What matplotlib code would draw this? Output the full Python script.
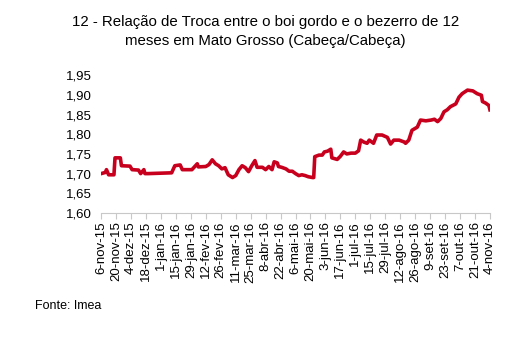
import matplotlib.pyplot as plt

plt.rcParams['font.family'] = ['Liberation Sans', 'DejaVu Sans']

# days since 6-nov-15 and exchange ratio (head/head)
days = [0, 4, 5, 7, 9, 12, 13, 18, 19, 27, 29, 35, 37, 40, 41, 44, 66, 69, 74, 76,
        85, 90, 91, 98, 101, 104, 107, 110, 113, 116, 119, 123, 126, 129, 132, 135,
        138, 141, 144, 146, 151, 154, 157, 160, 162, 165, 166, 169, 173, 176, 179,
        182, 185, 188, 191, 194, 198, 199, 200, 204, 207, 209, 212, 215, 216, 221,
        224, 227, 230, 234, 238, 241, 243, 246, 249, 251, 255, 258, 263, 268, 271,
        274, 279, 284, 285, 288, 291, 296, 299, 304, 309, 312, 315, 318, 321, 324,
        327, 332, 335, 338, 343, 348, 352, 356, 357, 360, 363, 364]
ratio = [1.700, 1.703, 1.710, 1.697, 1.697, 1.697, 1.740, 1.740, 1.720, 1.719, 1.710,
         1.709, 1.700, 1.710, 1.700, 1.700, 1.702, 1.720, 1.722, 1.710, 1.710, 1.725,
         1.717, 1.718, 1.723, 1.735, 1.725, 1.720, 1.712, 1.715, 1.697, 1.690, 1.695,
         1.710, 1.720, 1.715, 1.705, 1.720, 1.733, 1.716, 1.716, 1.710, 1.718, 1.710,
         1.730, 1.727, 1.718, 1.716, 1.712, 1.706, 1.706, 1.700, 1.695, 1.697, 1.695,
         1.692, 1.690, 1.690, 1.743, 1.747, 1.747, 1.755, 1.757, 1.762, 1.740, 1.736,
         1.744, 1.755, 1.750, 1.752, 1.752, 1.758, 1.785, 1.780, 1.777, 1.785, 1.777,
         1.798, 1.798, 1.792, 1.775, 1.785, 1.785, 1.780, 1.777, 1.785, 1.810, 1.818,
         1.836, 1.834, 1.836, 1.838, 1.832, 1.840, 1.857, 1.862, 1.870, 1.877, 1.894,
         1.903, 1.912, 1.910, 1.903, 1.899, 1.883, 1.879, 1.873, 1.862]

tick_days = list(range(0, 365, 14))
tick_labels = ['6-nov-15', '20-nov-15', '4-dez-15', '18-dez-15', '1-jan-16',
               '15-jan-16', '29-jan-16', '12-fev-16', '26-fev-16', '11-mar-16',
               '25-mar-16', '8-abr-16', '22-abr-16', '6-mai-16', '20-mai-16',
               '3-jun-16', '17-jun-16', '1-jul-16', '15-jul-16', '29-jul-16',
               '12-ago-16', '26-ago-16', '9-set-16', '23-set-16', '7-out-16',
               '21-out-16', '4-nov-16']
y_ticks = [1.60, 1.65, 1.70, 1.75, 1.80, 1.85, 1.90, 1.95]

fig = plt.figure(figsize=(5.24, 3.37), dpi=100)
ax = fig.add_axes([0.193, 0.368, 0.742, 0.409])

ax.plot(days, ratio, color='#C8001E', lw=2.6, solid_joinstyle='round')

ax.set_xlim(0, 364)
ax.set_ylim(1.60, 1.95)
ax.set_xticks(tick_days)
ax.set_xticklabels(tick_labels, rotation=90, fontsize=9.5)
ax.set_yticks(y_ticks)
ax.set_yticklabels([f'{v:.2f}'.replace('.', ',') for v in y_ticks], fontsize=9.5)

for side in ['top', 'right', 'left']:
    ax.spines[side].set_visible(False)
ax.spines['bottom'].set_color('#c8c8c8')
ax.spines['bottom'].set_linewidth(0.8)
ax.tick_params(axis='x', direction='out', length=4, color='#c8c8c8', pad=2)
ax.tick_params(axis='y', length=0, pad=7)

fig.text(0.507, 0.906, '12 - Relação de Troca entre o boi gordo e o bezerro de 12\n'
         'meses em Mato Grosso (Cabeça/Cabeça)', ha='center', va='center',
         fontsize=10.8, linespacing=1.4)
fig.text(0.067, 0.083, 'Fonte: Imea', fontsize=9)

fig.savefig('out.png', dpi=100)
